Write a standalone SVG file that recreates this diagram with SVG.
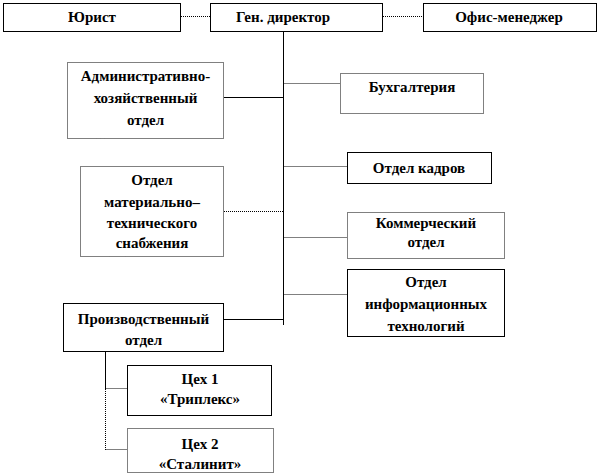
<svg xmlns="http://www.w3.org/2000/svg" width="602" height="475" viewBox="0 0 602 475">
<style>
  .box{fill:#fff;stroke:#000;stroke-width:1}
  .dbox{fill:#fff;stroke:#000;stroke-width:1;stroke-dasharray:1 1}
  .t{font-family:'Liberation Serif','DejaVu Serif',serif;font-weight:bold;font-size:15px;fill:#000;text-anchor:middle}
  .solid{stroke:#000;stroke-width:1;fill:none}
  .dot{stroke:#000;stroke-width:1;fill:none;stroke-dasharray:1 1}
</style>
<rect width="602" height="475" fill="#fff"/>
<g id="connectors">
  <line class="dot" x1="181" y1="16.5" x2="210" y2="16.5"/>
  <line class="dot" x1="383" y1="16.5" x2="423" y2="16.5"/>
  <line class="solid" x1="283.5" y1="32" x2="283.5" y2="325"/>
  <line class="solid" x1="224" y1="97.5" x2="283.5" y2="97.5"/>
  <line class="dot" x1="283.5" y1="83.5" x2="340" y2="83.5"/>
  <line class="dot" x1="283.5" y1="166.5" x2="347" y2="166.5"/>
  <line class="dot" x1="224" y1="211.5" x2="283.5" y2="211.5"/>
  <line class="dot" x1="283.5" y1="237.5" x2="347" y2="237.5"/>
  <line class="dot" x1="283.5" y1="294.5" x2="347" y2="294.5"/>
  <line class="solid" x1="224" y1="319.5" x2="283.5" y2="319.5"/>
  <line class="solid" x1="105.5" y1="352" x2="105.5" y2="389"/>
  <line class="dot" x1="105.5" y1="389" x2="105.5" y2="450"/>
  <line class="dot" x1="105.5" y1="388.5" x2="127" y2="388.5"/>
  <line class="dot" x1="105.5" y1="449.5" x2="127" y2="449.5"/>
</g>
<g id="yurist"><rect class="box" x="3.5" y="3.5" width="177" height="28"/><text class="t" x="92" y="22">Юрист</text></g>
<g id="gendir"><rect class="box" x="210.5" y="3.5" width="172" height="28"/><text class="t" x="283" y="22">Ген. директор</text></g>
<g id="office"><rect class="box" x="423.5" y="3.5" width="173" height="28"/><text class="t" x="509" y="22">Офис-менеджер</text></g>
<g id="adm"><rect class="dbox" x="67.5" y="62.5" width="156" height="76"/>
  <text class="t" x="145.5" y="81">Административно-</text>
  <text class="t" x="145.5" y="103">хозяйственный</text>
  <text class="t" x="145.5" y="125">отдел</text></g>
<g id="buh"><rect class="dbox" x="340.5" y="73.5" width="143" height="40"/><text class="t" x="412" y="92">Бухгалтерия</text></g>
<g id="kadry"><rect class="box" x="347.5" y="152.5" width="144" height="31"/><text class="t" x="419" y="173">Отдел кадров</text></g>
<g id="mts"><rect class="dbox" x="80.5" y="166.5" width="143" height="90"/>
  <text class="t" x="152" y="185">Отдел</text>
  <text class="t" x="152" y="207">материально–</text>
  <text class="t" x="152" y="228">технического</text>
  <text class="t" x="152" y="248">снабжения</text></g>
<g id="komm"><rect class="dbox" x="347.5" y="212.5" width="157" height="46"/>
  <text class="t" x="426" y="228">Коммерческий</text>
  <text class="t" x="426" y="247">отдел</text></g>
<g id="it"><rect class="box" x="347.5" y="269.5" width="157" height="67"/>
  <text class="t" x="426" y="287">Отдел</text>
  <text class="t" x="426" y="309">информационных</text>
  <text class="t" x="426" y="331">технологий</text></g>
<g id="proizv"><rect class="box" x="63.5" y="303.5" width="160" height="48"/>
  <text class="t" x="143.5" y="324">Производственный</text>
  <text class="t" x="143.5" y="345">отдел</text></g>
<g id="ceh1"><rect class="box" x="127.5" y="365.5" width="144" height="50"/>
  <text class="t" x="200" y="384">Цех 1</text>
  <text class="t" x="200" y="404">«Триплекс»</text></g>
<g id="ceh2"><rect class="dbox" x="127.5" y="428.5" width="146" height="44"/>
  <text class="t" x="200" y="449">Цех 2</text>
  <text class="t" x="200" y="469">«Сталинит»</text></g>
</svg>
